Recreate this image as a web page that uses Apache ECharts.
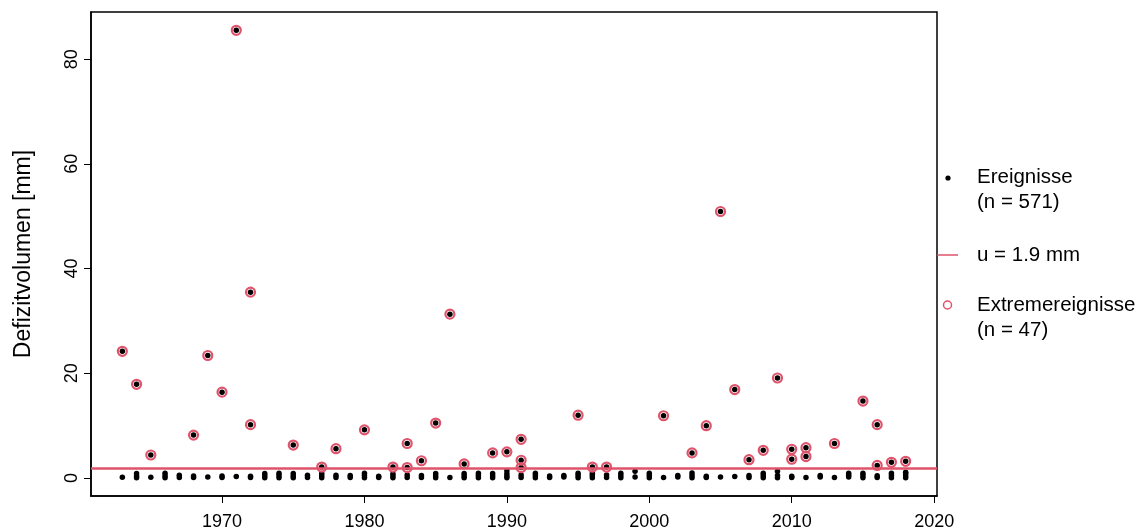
<!DOCTYPE html>
<html>
<head>
    <meta charset="utf-8">
    <title>Defizitvolumen</title>
    <script src="https://cdn.jsdelivr.net/npm/echarts@6/dist/echarts.min.js"></script>
    <style>
        html, body { margin: 0; padding: 0; background: #fff; }
        #chart { width: 1140px; height: 531px; }
    </style>
</head>
<body>
    <div id="chart"></div>
    <script>
    // Extremereignisse (ueber Schwelle u)
    var extremeYears = [1963, 1964, 1965, 1968, 1969, 1970, 1971, 1972, 1972, 1975, 1977, 1978, 1980,
        1982, 1983, 1983, 1984, 1985, 1986, 1987, 1989, 1990, 1991, 1991, 1991, 1995, 1996, 1997,
        2001, 2003, 2004, 2005, 2006, 2007, 2008, 2009, 2010, 2010, 2011, 2011, 2013,
        2015, 2016, 2016, 2017, 2018];
    var extremeValues = [24.2, 17.9, 4.4, 8.2, 23.4, 16.4, 85.5, 35.5, 10.2, 6.3, 2.1, 5.6, 9.2,
        2.1, 6.6, 2.0, 3.3, 10.5, 31.3, 2.7, 4.8, 5.0, 7.4, 3.4, 2.0, 12.0, 2.1, 2.1,
        11.9, 4.8, 10.0, 50.9, 16.9, 3.5, 5.3, 19.1, 5.5, 3.6, 5.8, 4.1, 6.6,
        14.7, 10.2, 2.4, 3.0, 3.2];

    // kleine Ereignisse (unter Schwelle), je Jahr
    var minorYears = [1963, 1964, 1965, 1966, 1967, 1968, 1969, 1970, 1971, 1972, 1973, 1974, 1975,
        1976, 1977, 1978, 1979, 1980, 1981, 1982, 1983, 1984, 1985, 1986, 1987, 1988, 1989, 1990,
        1991, 1992, 1993, 1994, 1995, 1996, 1997, 1998, 1999, 2000, 2001, 2002, 2003, 2004, 2005,
        2006, 2007, 2008, 2009, 2010, 2011, 2012, 2013, 2014, 2015, 2016, 2017, 2018];
    var minorValues = [
        [0.15], [0.05, 0.4, 0.85], [0.15], [0.05, 0.45, 0.9], [0.1, 0.55], [0.1, 0.4],
        [0.2], [0.1, 0.4], [0.3], [0.1, 0.35], [0.05, 0.45, 0.85], [0.05, 0.5, 0.9],
        [0.05, 0.45, 0.85], [0.1, 0.55], [0.05, 0.45, 0.85], [0.1, 0.55],
        [0.1, 0.5], [0.05, 0.5, 0.9], [0.1, 0.35], [0.05, 0.45, 0.8], [0.1, 0.6],
        [0.1, 0.5], [0.05, 0.45, 0.85], [0.1], [0.05, 0.45, 0.85], [0.05, 0.5, 0.9],
        [0.05, 0.45, 0.85], [0.05, 0.4, 0.8, 1.4], [0.1, 0.6], [0.05, 0.5, 0.9],
        [0.1, 0.4], [0.2, 0.5], [0.05, 0.5, 0.9], [0.05, 0.5, 0.9], [0.1, 0.6],
        [0.05, 0.5, 0.9], [0.2, 1.3], [0.05, 0.5, 0.9], [0.1], [0.2, 0.5],
        [0.05, 0.5, 0.95], [0.1, 0.35], [0.2], [0.3], [0.1, 0.5], [0.05, 0.5, 0.9],
        [0.05, 0.5, 1.3], [0.1, 0.35], [0.1], [0.2, 0.5], [0.1], [0.2, 0.55, 0.9],
        [0.05, 0.5, 0.9], [0.1, 0.45], [0.05, 0.5, 0.9], [0.05, 0.45, 0.85, 1.1]
    ];

    var threshold = 1.9;
    var xTicks = [1970, 1980, 1990, 2000, 2010, 2020];
    var yTicks = [0, 20, 40, 60, 80];

    var red = "#DF536B";
    var font = "Liberation Sans, Arial, sans-serif";

    function buildPoints() {
        var pts = [];
        for (var i = 0; i < minorYears.length; i++) {
            for (var j = 0; j < minorValues[i].length; j++) pts.push([minorYears[i], minorValues[i][j]]);
        }
        for (var k = 0; k < extremeYears.length; k++) pts.push([extremeYears[k], extremeValues[k]]);
        return pts;
    }

    function buildExtremes() {
        var pts = [];
        for (var k = 0; k < extremeYears.length; k++) pts.push([extremeYears[k], extremeValues[k]]);
        return pts;
    }

    function legendText(txt, y) {
        return {
            type: "text", left: 977, top: y - 11,
            style: { text: txt, font: "20.5px " + font, fill: "#000" }
        };
    }

    var chart = echarts.init(document.getElementById("chart"), null, { renderer: "canvas" });
    chart.setOption({
        animation: false,
        backgroundColor: "#fff",
        grid: {
            left: 91, right: 203, top: 12, bottom: 34,
            show: true, borderColor: "#000", borderWidth: 1.5, backgroundColor: "transparent"
        },
        xAxis: {
            type: "value", min: 1960.8, max: 2020.2,
            axisLine: { show: true, onZero: false, lineStyle: { color: "#000", width: 1.5 } },
            splitLine: { show: false },
            axisTick: { show: true, inside: false, length: 7, customValues: xTicks, lineStyle: { color: "#000", width: 1 } },
            axisLabel: {
                customValues: xTicks, margin: 17, color: "#000", fontSize: 18, fontFamily: font,
                formatter: function(v) { return String(v) }
            }
        },
        yAxis: {
            type: "value", min: -3.43, max: 89,
            name: "Defizitvolumen [mm]",
            nameLocation: "middle",
            nameGap: 67,
            nameTextStyle: { color: "#000", fontSize: 23, fontFamily: font, verticalAlign: "middle" },
            axisLine: { show: true, onZero: false, lineStyle: { color: "#000", width: 1.5 } },
            splitLine: { show: false },
            axisTick: { show: true, inside: false, length: 7, customValues: yTicks, lineStyle: { color: "#000", width: 1 } },
            axisLabel: { customValues: yTicks, rotate: 90, margin: 10, color: "#000", fontSize: 18, fontFamily: font }
        },
        series: [{
                name: "Ereignisse",
                type: "scatter",
                symbol: "circle",
                symbolSize: 5.5,
                itemStyle: { color: "#000", opacity: 1 },
                data: buildPoints(),
                z: 2
            },
            {
                name: "u",
                type: "line",
                data: [],
                markLine: {
                    silent: true,
                    symbol: "none",
                    label: { show: false },
                    lineStyle: { color: red, width: 2.5, type: "solid" },
                    data: [{ yAxis: threshold }]
                },
                z: 3
            },
            {
                name: "Extremereignisse",
                type: "scatter",
                symbol: "circle",
                symbolSize: 9,
                itemStyle: { color: "rgba(0,0,0,0)", borderColor: red, borderWidth: 2.2, opacity: 1 },
                data: buildExtremes(),
                z: 4
            }
        ],
        graphic: [
            { type: "circle", shape: { cx: 948, cy: 178, r: 2.6 }, style: { fill: "#000" } },
            legendText("Ereignisse", 178),
            legendText("(n = 571)", 203),
            { type: "line", shape: { x1: 937, y1: 255, x2: 958, y2: 255 }, style: { stroke: red, lineWidth: 1.5 } },
            legendText("u = 1.9 mm", 256),
            { type: "circle", shape: { cx: 947.5, cy: 305, r: 4 }, style: { fill: "none", stroke: red, lineWidth: 1.5 } },
            legendText("Extremereignisse", 306),
            legendText("(n = 47)", 331)
        ]
    });
    </script>
</body>
</html>
